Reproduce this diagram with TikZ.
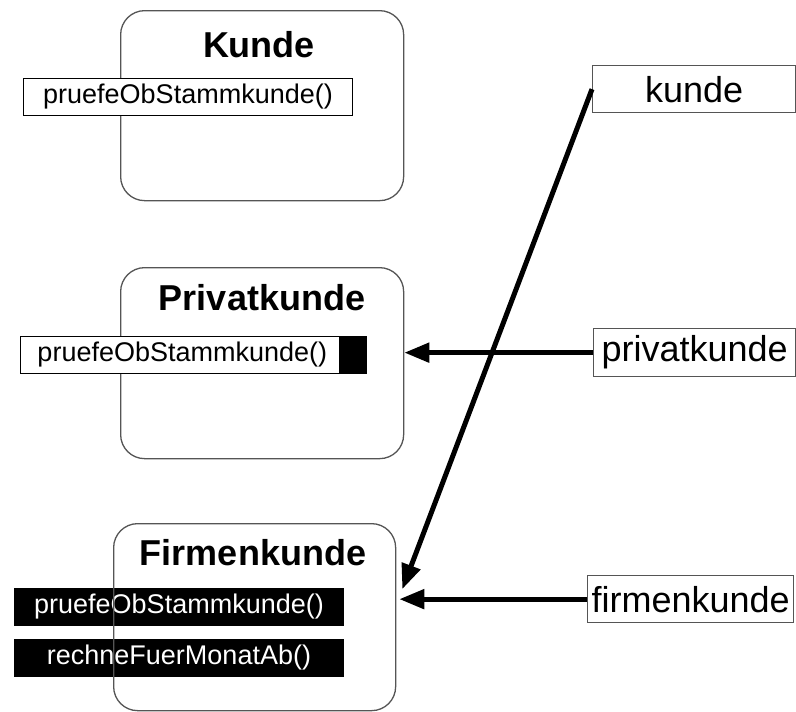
\documentclass[tikz,border=0pt]{standalone}
\usepackage{fontspec}
\setmainfont{Liberation Sans}
\usepackage{tikz}
\usetikzlibrary{positioning,calc,arrows.meta}
\definecolor{rahmengrau}{RGB}{85,85,85}

\begin{document}
\begin{tikzpicture}[x=1pt, y=-1pt,
  klasse/.style={draw=rahmengrau, line width=1.3pt, rounded corners=24pt,
                 minimum width=283pt, inner sep=0pt, anchor=north west},
  titel/.style={inner sep=0pt, font=\fontsize{36}{40}\selectfont\bfseries},
  methode/.style={draw, fill=white, line width=1pt, minimum width=329pt, minimum height=37pt,
                  inner sep=0pt, anchor=north west, font=\fontsize{27}{30}\selectfont},
  aktiv/.style={methode, fill=black, text=white},
  objekt/.style={draw=rahmengrau, line width=1.3pt, minimum height=47pt,
                 inner sep=0pt, anchor=north west, font=\fontsize{36}{40}\selectfont},
  verweis/.style={line width=5pt, -{Triangle[length=25pt, width=19pt]}}]
  \useasboundingbox (0,0) rectangle (796,712);
  % Klassen
  \node[klasse, minimum height=190pt] (kundeKlasse) at (120,10) {};
  \node[titel] (kundeTitel) at (259,45) {Kunde};
  \node[methode] (kundeMethode) at (23,78) {pruefeObStammkunde()};
  \node[klasse, minimum height=191pt] (privatKlasse) at (120,267) {};
  \node[titel] (privatTitel) at (262,298) {Privatkunde};
  \node[methode, minimum width=0pt, text width=312pt, inner xsep=17pt, align=left]
    (privatMethode) at (20,336) {pruefeObStammkunde()};
  \node[fill=black, minimum width=28pt, minimum height=37pt, inner sep=0pt, anchor=east]
    (privatMarke) at (privatMethode.east) {};
  \node[aktiv] (firmenMethodeA) at (14,588) {pruefeObStammkunde()};
  \node[aktiv] (firmenMethodeB) at (14,639) {rechneFuerMonatAb()};
  \node[klasse, minimum width=282pt, minimum height=187pt] (firmenKlasse) at (113,523) {};
  \node[titel] (firmenTitel) at (253,553) {Firmenkunde};
  % Objekte
  \node[objekt, minimum width=203pt] (kunde) at (592,65) {kunde};
  \node[objekt, minimum width=202pt, minimum height=48pt] (privatkunde) at (593,328) {privatkunde};
  \node[objekt, minimum width=206pt] (firmenkunde) at (587,575) {firmenkunde};
  % Verweise
  \draw[verweis] (kunde.west) -- ($(firmenKlasse.east |- firmenkunde.west)+(6,-10)$);
  \draw[verweis] (privatkunde.west) -- (privatKlasse.east |- privatkunde.west);
  \draw[verweis] (firmenkunde.west) -- ($(firmenKlasse.east |- firmenkunde.west)+(3,0)$);
\end{tikzpicture}
\end{document}
